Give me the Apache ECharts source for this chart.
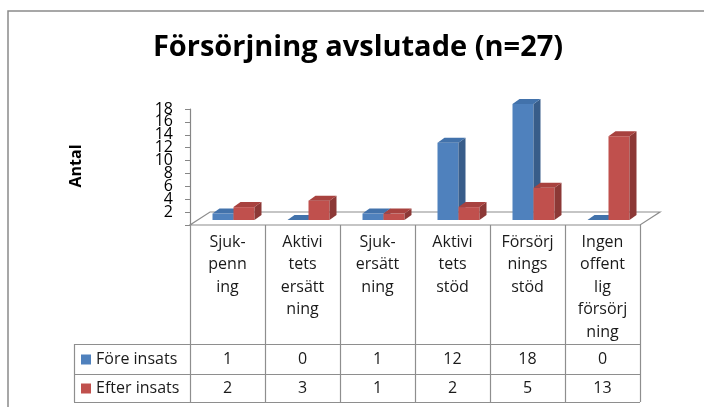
<!DOCTYPE html>
<html>
<head>
<meta charset="utf-8">
<script src="https://cdn.jsdelivr.net/npm/echarts@6/dist/echarts.min.js"></script>
<style>html,body{margin:0;padding:0;background:#fff;}#c{width:704px;height:407px;}</style>
</head>
<body>
<div id="c"></div>
<script>
var categories = ["Sjuk-\npenn\ning", "Aktivi\ntets\nersätt\nning", "Sjuk-\nersätt\nning", "Aktivi\ntets\nstöd", "Försörj\nnings\nstöd", "Ingen\noffent\nlig\nförsörj\nning"];
var seriesNames = ["Före insats", "Efter insats"];
var foreValues = [1, 0, 1, 12, 18, 0];
var efterValues = [2, 3, 1, 2, 5, 13];
var yTicks = [0, 2, 4, 6, 8, 10, 12, 14, 16, 18];

var FONT = '"Open Sans"';
var colors = [
  {front: '#4F81BD', side: '#385D8A', top: '#4272AB'},
  {front: '#C0504D', side: '#8C3836', top: '#A8423F'}
];
var GRID_L = 190, GRID_R = 64, GRID_T = 109, GRID_B = 182;
var DX = 7, DY = -5;      // bar depth
var FDX = 20, FDY = -13;  // floor depth

var chart = echarts.init(document.getElementById('c'), null, {renderer: 'canvas'});

function barItem(seriesIdx) {
  return function (params, api) {
    var ci = api.value(0), v = api.value(1);
    var top = api.coord([ci, v]);
    var base = api.coord([ci, 0]);
    var band = api.size([1, 0])[0];
    var w = band * 0.28;
    var x = seriesIdx === 0 ? top[0] - band * 0.2 : top[0] + band * 0.08;
    var yT = top[1] + DY, yB = base[1] + DY;
    var c = colors[seriesIdx];
    return {
      type: 'group',
      children: [
        {type: 'rect', shape: {x: x, y: yT, width: w, height: Math.max(yB - yT, 0)}, style: {fill: c.front}},
        {type: 'polygon', shape: {points: [[x + w, yT], [x + w + DX, yT + DY], [x + w + DX, yB + DY], [x + w, yB]]}, style: {fill: c.side}},
        {type: 'polygon', shape: {points: [[x, yT], [x + w, yT], [x + w + DX, yT + DY], [x + DX, yT + DY]]}, style: {fill: c.top}}
      ]
    };
  };
}

function floorItem(params, api) {
  var band = api.size([1, 0])[0];
  var p0 = api.coord([0, 0]);
  var p1 = api.coord([categories.length - 1, 0]);
  var l = p0[0] - band / 2, r = p1[0] + band / 2, y = p0[1];
  return {
    type: 'polygon',
    shape: {points: [[l, y], [r, y], [r + FDX, y + FDY], [l + FDX, y + FDY]]},
    style: {fill: '#fff', stroke: '#8c8c8c', lineWidth: 1.2}
  };
}

var yMin = yTicks[0], yMax = yTicks[yTicks.length - 1], yStep = yTicks[1] - yTicks[0];
function yAxisDef(parity, showLine) {
  return {
    type: 'value', min: yMin, max: yMax, interval: yStep, position: 'left',
    axisLine: {show: showLine, lineStyle: {color: '#868686', width: 1.2}},
    axisTick: {show: showLine, inside: false, length: 5, lineStyle: {color: '#868686'}},
    splitLine: {show: false},
    axisLabel: {
      margin: 17, color: '#000', fontFamily: FONT, fontSize: 16,
      showMinLabel: true, showMaxLabel: true,
      formatter: function (v) {
        var idx = yTicks.indexOf(v);
        return (v !== 0 && idx % 2 === parity) ? String(v) : '';
      }
    }
  };
}

chart.setOption({
  animation: false,
  grid: {left: GRID_L, right: GRID_R, top: GRID_T, bottom: GRID_B},
  xAxis: {
    type: 'category', data: categories,
    axisLine: {show: false}, axisTick: {show: false}, axisLabel: {show: false}
  },
  yAxis: [yAxisDef(1, true), yAxisDef(0, false)],
  series: [
    {type: 'custom', name: 'floor', renderItem: floorItem, data: [[0, 0]], clip: false, z: 1},
    {type: 'custom', name: seriesNames[0], renderItem: barItem(0), clip: false, z: 2,
      data: foreValues.map(function (v, i) { return [i, v]; })},
    {type: 'custom', name: seriesNames[1], renderItem: barItem(1), clip: false, z: 3,
      data: efterValues.map(function (v, i) { return [i, v]; })}
  ]
});

// Data table and decorations
var colW = (704 - GRID_L - GRID_R) / categories.length;
var tTop = 407 - GRID_B, hdrBot = 344, r1Bot = 374, r2Bot = 402, legL = 74;
var tRight = GRID_L + colW * categories.length;
var lineStyle = {stroke: '#8e8e8e', lineWidth: 1.2};
var g = [];
g.push({type: 'rect', shape: {x: 8, y: 11, width: 760, height: 460}, style: {fill: 'none', stroke: '#8a8a8a', lineWidth: 1.5}, z: 0});
g.push({type: 'text', x: 358, y: 48, style: {text: 'Försörjning avslutade (n=27)', font: 'bold 29px ' + FONT, fill: '#000', align: 'center', verticalAlign: 'middle'}});
g.push({type: 'text', x: 76, y: 166, rotation: Math.PI / 2, style: {text: 'Antal', font: 'bold 16px ' + FONT, fill: '#000', align: 'center', verticalAlign: 'middle'}});
// vertical lines
for (var i = 0; i <= categories.length; i++) {
  var x = Math.round(GRID_L + colW * i) + 0.5;
  g.push({type: 'line', shape: {x1: x, y1: tTop, x2: x, y2: r2Bot}, style: lineStyle, z: 5});
}
g.push({type: 'line', shape: {x1: legL + 0.5, y1: hdrBot, x2: legL + 0.5, y2: r2Bot}, style: lineStyle, z: 5});
[hdrBot, r1Bot, r2Bot].forEach(function (y) {
  g.push({type: 'line', shape: {x1: legL, y1: y + 0.5, x2: tRight, y2: y + 0.5}, style: lineStyle, z: 5});
});
// header labels
categories.forEach(function (c, i) {
  g.push({type: 'text', x: GRID_L + colW * (i + 0.5), y: 231, style: {text: c, font: '16px ' + FONT, fill: '#1a1a1a', align: 'center', verticalAlign: 'top', lineHeight: 22.5}, z: 6});
});
// rows
var rows = [foreValues, efterValues];
var rowMid = [(hdrBot + r1Bot) / 2 + 0.5, (r1Bot + r2Bot) / 2 + 0.5];
rows.forEach(function (vals, r) {
  g.push({type: 'rect', shape: {x: 81, y: rowMid[r] - 5, width: 10, height: 10}, style: {fill: colors[r].front}, z: 6});
  g.push({type: 'text', x: 96, y: rowMid[r], style: {text: seriesNames[r], font: '16px ' + FONT, fill: '#1a1a1a', align: 'left', verticalAlign: 'middle'}, z: 6});
  vals.forEach(function (v, i) {
    g.push({type: 'text', x: GRID_L + colW * (i + 0.5), y: rowMid[r], style: {text: String(v), font: '16px ' + FONT, fill: '#1a1a1a', align: 'center', verticalAlign: 'middle'}, z: 6});
  });
});
chart.setOption({graphic: {elements: g}});
</script>
</body>
</html>
